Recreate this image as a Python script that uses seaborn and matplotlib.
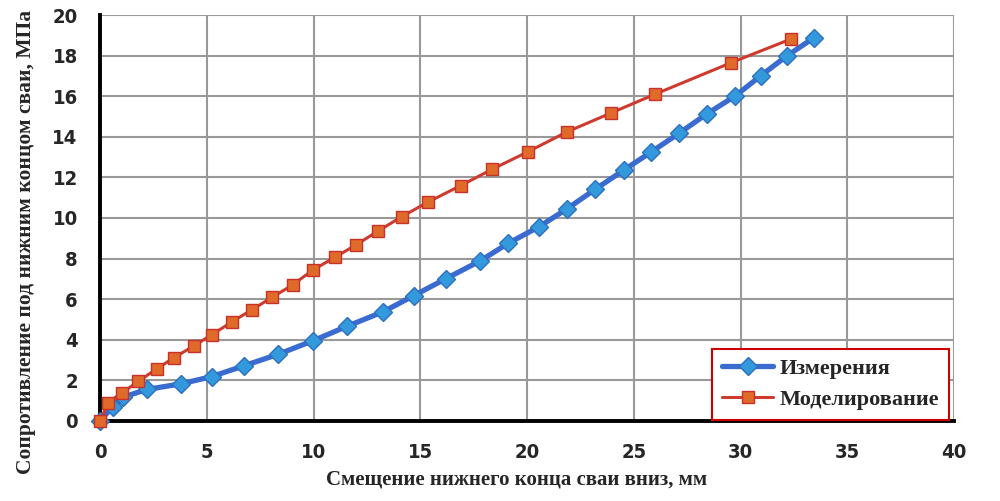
import matplotlib
matplotlib.use("Agg")
import matplotlib.pyplot as plt
import seaborn as sns
import pandas as pd

# Data
meas_x = [0, 0.6, 1.09, 2.2, 3.78, 5.23, 6.76, 8.32, 9.96, 11.55, 13.27, 14.7, 16.19,
          17.8, 19.12, 20.57, 21.89, 23.19, 24.54, 25.8, 27.12, 28.41, 29.74, 30.94,
          32.19, 33.44]
meas_y = [0, 0.7, 1.17, 1.55, 1.82, 2.18, 2.72, 3.27, 3.94, 4.65, 5.38, 6.17, 7.0,
          7.88, 8.75, 9.57, 10.46, 11.41, 12.36, 13.24, 14.17, 15.12, 16.0, 17.0,
          18.0, 18.88]
model_x = [0, 0.39, 1.01, 1.79, 2.65, 3.48, 4.42, 5.23, 6.2, 7.1, 8.07, 9.02, 9.98,
           11.0, 11.99, 13.03, 14.13, 15.34, 16.89, 18.37, 20.06, 21.87, 23.93, 26.0,
           29.56, 32.37]
model_y = [0, 0.9, 1.36, 1.94, 2.56, 3.12, 3.71, 4.24, 4.89, 5.47, 6.09, 6.7, 7.44,
           8.06, 8.67, 9.36, 10.06, 10.77, 11.59, 12.4, 13.27, 14.24, 15.17, 16.1,
           17.65, 18.82]
series_names = ["Измерения", "Моделирование"]
x_ticks = [0, 5, 10, 15, 20, 25, 30, 35, 40]
y_ticks = [0, 2, 4, 6, 8, 10, 12, 14, 16, 18, 20]
x_label = "Смещение нижнего конца сваи вниз, мм"
y_label = "Сопротивление под нижним концом сваи, МПа"

df_meas = pd.DataFrame({"x": meas_x, "y": meas_y})
df_model = pd.DataFrame({"x": model_x, "y": model_y})

sns.set_style("white")
fig = plt.figure(figsize=(10, 5.01), dpi=100)
ax = fig.add_axes([0.10, 0.16, 0.854, 0.81])

sns.lineplot(data=df_meas, x="x", y="y", ax=ax, sort=False, color="#3a6bd0",
             linewidth=3.8, marker="D", markersize=9.5, markerfacecolor="#3399dd",
             markeredgecolor="#2e6fc0", markeredgewidth=1.0, label=series_names[0],
             zorder=3, clip_on=False)
sns.lineplot(data=df_model, x="x", y="y", ax=ax, sort=False, color="#cf3a2e",
             linewidth=2.2, marker="s", markersize=9, markerfacecolor="#e06a2a",
             markeredgecolor="#c8302a", markeredgewidth=1.0, label=series_names[1],
             zorder=4, clip_on=False)

ax.set_xlim(0, 40)
ax.set_ylim(0, 20)
ax.set_xticks(x_ticks)
ax.set_yticks(y_ticks)
ax.grid(True, color="#999999", linewidth=1.5)
ax.set_axisbelow(True)
for s in ["top", "right"]:
    ax.spines[s].set_visible(False)
for s in ["left", "bottom"]:
    ax.spines[s].set_color("black")
    ax.spines[s].set_linewidth(2.8)
    ax.spines[s].set_zorder(2.5)
ax.tick_params(axis="both", direction="out", length=5, width=2.8, color="black",
               labelsize=14.5)
ax.tick_params(axis="x", pad=11)
ax.tick_params(axis="y", pad=11)
for lab in ax.get_xticklabels() + ax.get_yticklabels():
    lab.set_fontfamily("DejaVu Sans")
    lab.set_fontweight("bold")
    lab.set_fontstretch("condensed")

ax.set_xlabel(x_label, fontfamily="Liberation Serif", fontweight="bold", fontsize=15)
ax.set_ylabel(y_label, fontfamily="Liberation Serif", fontweight="bold", fontsize=15.5)
ax.xaxis.set_label_coords(0.488, -0.12)
ax.yaxis.set_label_coords(-0.075, 0.44)

leg = ax.legend(loc="lower right", bbox_to_anchor=(0.996, 0.0), frameon=True,
                fancybox=False, handlelength=2.3, borderpad=0.45, labelspacing=0.45,
                handletextpad=0.3, borderaxespad=0.05,
                prop={"family": "Liberation Serif", "weight": "bold", "size": 16})
leg.get_frame().set_edgecolor("#cc0000")
leg.get_frame().set_linewidth(1.5)
leg.get_frame().set_alpha(1)

fig.savefig("out.png", dpi=100)
